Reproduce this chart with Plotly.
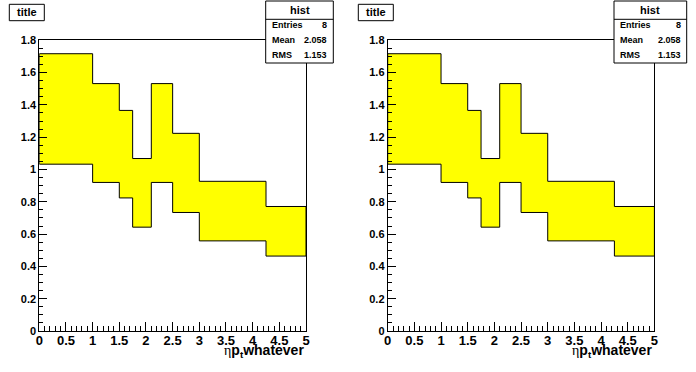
import plotly.graph_objects as go

# ---- data ----
bin_edges = [0.0, 1.0, 1.5, 1.75, 2.1, 2.5, 3.0, 4.25, 5.0]
band_upper = [1.717, 1.532, 1.366, 1.068, 1.532, 1.224, 0.927, 0.771]
band_lower = [1.033, 0.920, 0.824, 0.643, 0.920, 0.734, 0.558, 0.464]
stats_labels = ["Entries", "Mean", "RMS"]
stats_values = ["8", "2.058", "1.153"]
hist_name = "hist"
pad_title = "title"
x_ticks = [0, 0.5, 1, 1.5, 2, 2.5, 3, 3.5, 4, 4.5, 5]

W, H = 696, 372
FONT = "Liberation Sans, Arial, sans-serif"


def px(x):
    return x / W


def py(y):
    return (H - y) / H


def band_polygon(edges, up, lo):
    xs, ys = [], []
    for i in range(len(up)):
        xs += [edges[i], edges[i + 1]]
        ys += [up[i], up[i]]
    for i in reversed(range(len(lo))):
        xs += [edges[i + 1], edges[i]]
        ys += [lo[i], lo[i]]
    xs.append(xs[0])
    ys.append(ys[0])
    return xs, ys


fig = go.Figure()

panels = [
    dict(xa="x", ya="y", x0=39.3, box=(265.7, 333.3), title_box=(9.3, 44.3)),
    dict(xa="x2", ya="y2", x0=387.7, box=(614.0, 686.7), title_box=(358.3, 393.3)),
]

bx, by = band_polygon(bin_edges, band_upper, band_lower)
for p in panels:
    fig.add_trace(go.Scatter(
        x=bx, y=by, xaxis=p["xa"], yaxis=p["ya"], mode="lines",
        fill="toself", fillcolor="#ffff00",
        line=dict(color="black", width=1), hoverinfo="skip", showlegend=False,
    ))

plot_w = 266.7
y_bot, y_top = 331.0, 40.0

axis_common = dict(showgrid=False, zeroline=False, showline=True, mirror=True,
                   linecolor="black", linewidth=1, ticks="inside", tickcolor="black",
                   tickwidth=1, fixedrange=True, automargin=False)

layout = dict(template="none", width=W, height=H, margin=dict(l=0, r=0, t=0, b=0, pad=0),
              paper_bgcolor="white", plot_bgcolor="white", showlegend=False)

for i, p in enumerate(panels):
    sfx = "" if i == 0 else str(i + 1)
    layout["xaxis" + sfx] = dict(
        axis_common, domain=[px(p["x0"]), px(p["x0"] + plot_w)], range=[0, 5],
        anchor="y" + sfx, tickvals=x_ticks, ticklen=9, ticklabelstandoff=-3,
        minor=dict(dtick=0.1, tick0=0, ticks="inside", ticklen=5, tickcolor="black", tickwidth=1),
        tickfont=dict(family=FONT, size=13, color="black", weight="bold"),
    )
    layout["yaxis" + sfx] = dict(
        axis_common, domain=[py(y_bot), py(y_top)], range=[0, 1.802],
        anchor="x" + sfx, dtick=0.2, tick0=0, ticklen=8,
        minor=dict(dtick=0.05, tick0=0, ticks="inside", ticklen=4, tickcolor="black", tickwidth=1),
        tickfont=dict(family=FONT, size=11, color="black", weight="bold"),
    )

fig.update_layout(**layout)

shapes = []
annotations = []
for i, p in enumerate(panels):
    off = 0 if i == 0 else 348.4
    # stats box
    bl, br = p["box"]
    shapes.append(dict(type="rect", xref="paper", yref="paper", x0=px(bl), x1=px(br),
                       y0=py(63), y1=py(1), fillcolor="white", line=dict(color="black", width=1),
                       layer="above"))
    shapes.append(dict(type="line", xref="paper", yref="paper", x0=px(bl), x1=px(br),
                       y0=py(19.3), y1=py(19.3), line=dict(color="black", width=1), layer="above"))
    annotations.append(dict(xref="paper", yref="paper", x=px((bl + br) / 2), y=py(10),
                            text="<b>%s</b>" % hist_name, showarrow=False, xanchor="center",
                            yanchor="middle", font=dict(family=FONT, size=11, color="black")))
    for k, (lab, val) in enumerate(zip(stats_labels, stats_values)):
        yy = 25.3 + 14.8 * k
        annotations.append(dict(xref="paper", yref="paper", x=px(bl + 4), y=py(yy),
                                text="<b>%s</b>" % lab, showarrow=False, xanchor="left",
                                yanchor="middle", font=dict(family=FONT, size=9, color="black")))
        annotations.append(dict(xref="paper", yref="paper", x=px(br - 4), y=py(yy),
                                text="<b>%s</b>" % val, showarrow=False, xanchor="right",
                                yanchor="middle", font=dict(family=FONT, size=9, color="black")))
    # title box
    tl, tr = p["title_box"]
    shapes.append(dict(type="rect", xref="paper", yref="paper", x0=px(tl), x1=px(tr),
                       y0=py(20.7), y1=py(4.3), fillcolor="white", line=dict(color="black", width=1),
                       layer="above"))
    annotations.append(dict(xref="paper", yref="paper", x=px((tl + tr) / 2), y=py(12.5),
                            text="<b>%s</b>" % pad_title, showarrow=False, xanchor="center",
                            yanchor="middle", font=dict(family=FONT, size=11, color="black")))
    # x-axis title
    annotations.append(dict(
        xref="paper", yref="paper", x=px(306 + off), y=py(351), showarrow=False,
        xanchor="right", yanchor="middle",
        text="<span style=\"font-family:'Liberation Serif'\">η</span><b>p<sub>t</sub>whatever</b>",
        font=dict(family=FONT, size=14, color="black")))

fig.update_layout(shapes=shapes, annotations=annotations)
fig.write_html("out.html", config={"displayModeBar": False},
               post_script="document.body.style.margin='0';")
